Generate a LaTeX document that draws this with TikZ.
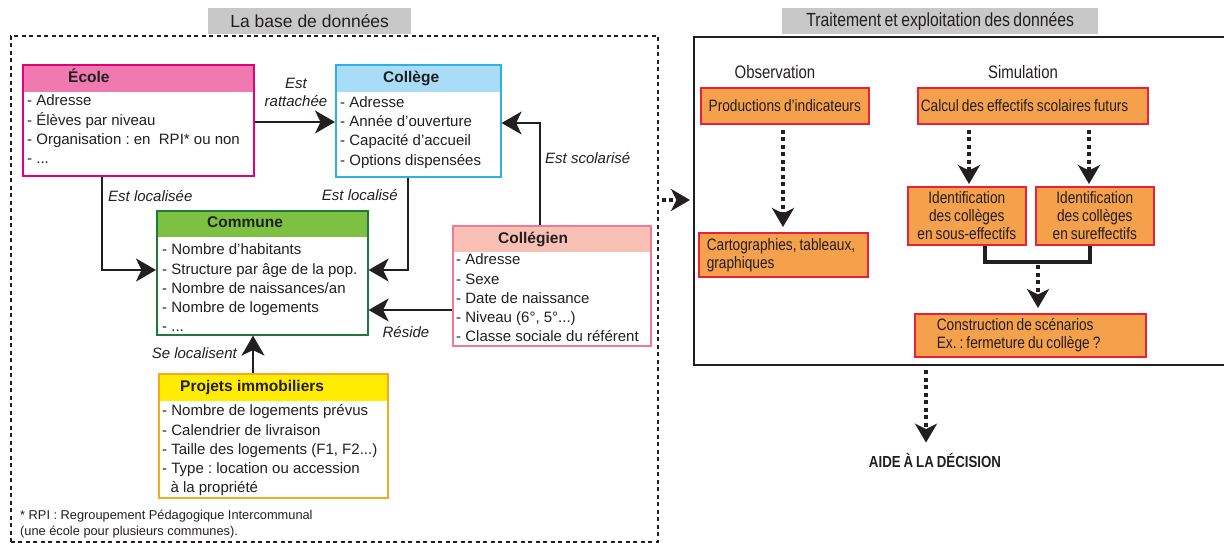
\documentclass[tikz,border=0pt]{standalone}
\usepackage{fontspec}
\setmainfont{Liberation Sans}
\newfontfamily\cond[FakeStretch=0.83,WordSpace=0.8]{Liberation Sans}
\frenchspacing
\usetikzlibrary{arrows.meta}
\definecolor{ecB}{HTML}{E4007C}
\definecolor{ecH}{HTML}{F07AAF}
\definecolor{coB}{HTML}{2BB0EA}
\definecolor{coH}{HTML}{A8DCF7}
\definecolor{cmB}{HTML}{1E7A3A}
\definecolor{cmH}{HTML}{7DC143}
\definecolor{clB}{HTML}{F07A93}
\definecolor{clH}{HTML}{F8C0B4}
\definecolor{prB}{HTML}{F7A823}
\definecolor{prH}{HTML}{FFEC00}
\definecolor{oF}{HTML}{F5A04A}
\definecolor{oB}{HTML}{E8203A}
\definecolor{tG}{HTML}{C8C8C8}
\definecolor{ink}{HTML}{231F20}
\tikzset{
  ent/.style n args={3}{draw=#1, line width=1.6pt, fill=white, inner sep=0pt, anchor=north west,
    path picture={\fill[#2] (path picture bounding box.north west) rectangle ([yshift=-#3]path picture bounding box.north east);}},
  hdr/.style={anchor=base west, inner sep=0pt, text=ink, font=\bfseries\fontsize{15.5}{18}\selectfont},
  body/.style={anchor=north west, inner sep=0pt, align=left, text=ink, font=\fontsize{15}{19.3}\selectfont},
  lab/.style={inner sep=0pt, text=ink, font=\itshape\fontsize{15}{18}\selectfont},
  arr/.style={line width=1.8pt, draw=ink, -{Stealth[length=20pt,width=23pt,inset=5.5pt]}},
  darr/.style={line width=4pt, draw=ink, dash pattern=on 4pt off 3.5pt, -{Stealth[length=19pt,width=22pt,inset=5.5pt]}},
  obox/.style={draw=oB, fill=oF, line width=1.6pt, inner sep=0pt, anchor=north west, text=ink,
    font=\cond\fontsize{16.5}{18}\selectfont},
  ttl/.style={fill=tG, inner sep=0pt, anchor=north west, text=ink}
}
\begin{document}
\begin{tikzpicture}[x=1pt,y=-1pt]
\useasboundingbox (0,0) rectangle (1224,543);
\clip (0,0) rectangle (1224,543);

% titles
\node[ttl, minimum width=203pt, minimum height=26pt, font=\fontsize{17.5}{20}\selectfont] (t1) at (208,8) {La base de données};
\node[ttl, minimum width=316pt, minimum height=26pt, font=\cond\fontsize{19}{20}\selectfont] (t2) at (782,8) {Traitement et exploitation des données};

% left dashed frame
\node[draw=ink, line width=1.8pt, dash pattern=on 4pt off 3.5pt, inner sep=0pt, anchor=north west,
  minimum width=647pt, minimum height=506pt] (base) at (10,35) {};

% entity boxes
\node[ent={ecB}{ecH}{27pt}, minimum width=231pt, minimum height=111pt] (ecole) at (22,64) {};
\node[ent={coB}{coH}{27pt}, minimum width=165pt, minimum height=112pt] (college) at (335,64) {};
\node[ent={cmB}{cmH}{26pt}, minimum width=211pt, minimum height=124pt] (commune) at (156,210) {};
\node[ent={clB}{clH}{26pt}, minimum width=198pt, minimum height=120pt] (collegien) at (452,225) {};
\node[ent={prB}{prH}{27pt}, minimum width=229pt, minimum height=124pt] (projets) at (158,373) {};

\node[hdr] (ecoleT) at (68,82.5) {École};
\node[hdr] (collegeT) at (383,82.2) {Collège};
\node[hdr] (communeT) at (207,227.2) {Commune};
\node[hdr] (collegienT) at (498,243.5) {Collégien};
\node[hdr] (projetsT) at (180,391.2) {Projets immobiliers};

\node[body] (ecoleB) at (27,92) {\strut- Adresse\\- Élèves par niveau\\- Organisation : en\ \ RPI* ou non\\- ...};
\node[body] (collegeB) at (340,93.5) {\strut- Adresse\\- Année d’ouverture\\- Capacité d’accueil\\- Options dispensées};
\node[body] (communeB) at (162,241) {\strut- Nombre d’habitants\\- Structure par âge de la pop.\\- Nombre de naissances/an\\- Nombre de logements\\- ...};
\node[body] (collegienB) at (456,251) {\strut- Adresse\\- Sexe\\- Date de naissance\\- Niveau (6°, 5°...)\\- Classe sociale du référent};
\node[body] (projetsB) at (162,402) {\strut- Nombre de logements prévus\\- Calendrier de livraison\\- Taille des logements (F1, F2...)\\- Type : location ou accession\\\ \ à la propriété};

% relation labels
\node[lab, align=center] (lRatt) at (296,92) {Est\\rattachée};
\node[lab, anchor=west] (lLocE) at (108,196) {Est localisée};
\node[lab, anchor=east] (lLocC) at (398,195) {Est localisé};
\node[lab, anchor=west] (lScol) at (545,158) {Est scolarisé};
\node[lab] (lRes) at (406,332) {Réside};
\node[lab, anchor=east] (lSeLoc) at (237,353) {Se localisent};

% relations
\draw[arr] (ecole.east |- 0,122) -- (college.west |- 0,122);
\draw[arr] (ecole.south -| 102,0) |- (commune.west |- 0,270);
\draw[arr] (college.south -| 408,0) |- (commune.east |- 0,270);
\draw[arr] (collegien.north -| 540,0) |- (college.east |- 0,123);
\draw[arr] (collegien.west |- 0,310) -- (commune.east |- 0,310);
\draw[arr] (projets.north -| 253,0) -- (commune.south -| 253,0);

% footnote
\node[anchor=north west, inner sep=0pt, align=left, text=ink, font=\fontsize{12.8}{16}\selectfont] (note) at (20,508.4)
  {\strut* RPI : Regroupement Pédagogique Intercommunal\\(une école pour plusieurs communes).};

% right frame
\node[draw=ink, line width=2pt, inner sep=0pt, anchor=north west, minimum width=545pt, minimum height=328pt] (trait) at (693,36) {};

\node[text=ink, inner sep=0pt, font=\cond\fontsize{18}{20}\selectfont] (obs) at (775,72) {Observation};
\node[text=ink, inner sep=0pt, font=\cond\fontsize{18}{20}\selectfont] (sim) at (1023,72) {Simulation};

\node[obox, minimum width=168pt, minimum height=36pt] (prod) at (700,87) {Productions d’indicateurs};
\node[obox, minimum height=36pt, inner xsep=3pt] (calc) at (917,87) {\parbox{224pt}{Calcul des effectifs scolaires futurs}};
\node[obox, minimum height=44pt, inner xsep=8pt] (carto) at (698,232) {\parbox{153pt}{Cartographies, tableaux,\\graphiques}};
\node[obox, minimum width=118pt, minimum height=58pt, align=center] (id1) at (907,186) {Identification\\des collèges\\en sous-effectifs};
\node[obox, minimum width=118pt, minimum height=58pt, align=center] (id2) at (1035,186) {Identification\\des collèges\\en sureffectifs};
\node[obox, minimum height=43pt, inner xsep=22pt] (constr) at (914,313) {\parbox{187pt}{Construction de scénarios\\Ex. : fermeture du collège ?}};

\node[text=ink, inner sep=0pt, font=\cond\bfseries\fontsize{16}{18}\selectfont] (aide) at (935,460) {AIDE À LA DÉCISION};

% flows
\draw[darr, shorten <=3pt, shorten >=3pt] (base.east |- 0,200) -- (trait.west |- 0,200);
\draw[darr, shorten <=5pt, shorten >=5pt] (prod.south -| 783,0) -- (carto.north -| 783,0);
\draw[darr, shorten <=5pt, shorten >=2pt] (calc.south -| 969,0) -- (id1.north -| 969,0);
\draw[darr, shorten <=5pt, shorten >=2pt] (calc.south -| 1089,0) -- (id2.north -| 1089,0);
\coordinate (bk) at (1038,262);
\draw[line width=3.5pt, draw=ink] (id1.south -| 985,0) |- (bk) -| (id2.south -| 1090,0);
\draw[darr, shorten <=3pt, shorten >=5pt] (bk) -- (constr.north -| bk);
\draw[darr, shorten <=4pt, shorten >=10pt] (trait.south -| 926,0) -- (aide.north -| 926,0);
\end{tikzpicture}
\end{document}
